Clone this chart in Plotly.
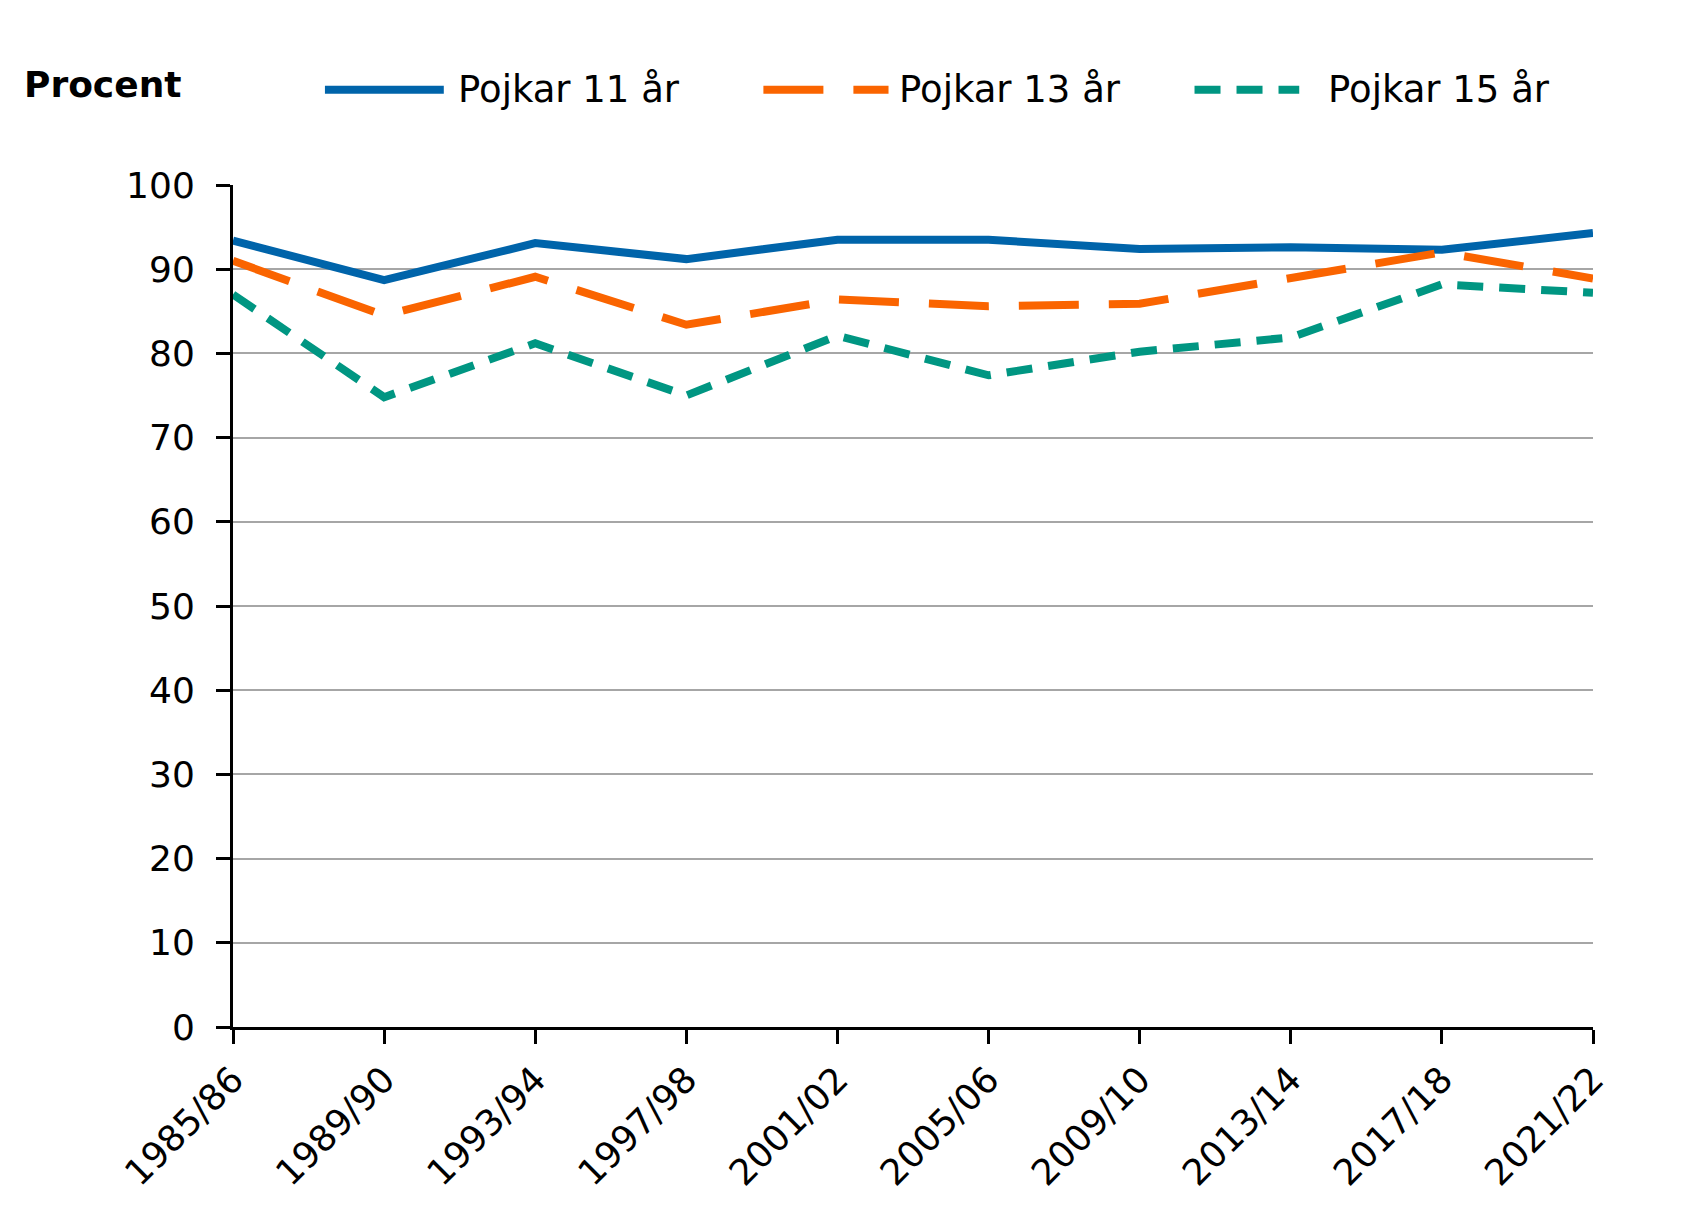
import plotly.graph_objects as go

years = ["1985/86", "1989/90", "1993/94", "1997/98", "2001/02",
         "2005/06", "2009/10", "2013/14", "2017/18", "2021/22"]
pojkar_11 = [93.4, 88.7, 93.1, 91.2, 93.5, 93.5, 92.4, 92.6, 92.3, 94.3]
pojkar_13 = [91.0, 84.5, 89.1, 83.4, 86.4, 85.6, 85.9, 89.0, 92.0, 88.9]
pojkar_15 = [87.0, 74.8, 81.2, 75.0, 82.1, 77.4, 80.2, 81.9, 88.2, 87.2]
series_names = ["Pojkar 11 år", "Pojkar 13 år", "Pojkar 15 år"]
y_ticks = [0, 10, 20, 30, 40, 50, 60, 70, 80, 90, 100]

colors = ["#0064AA", "#FA6400", "#009682"]
dashes = ["solid", "60px,30px", "26px,16px"]
FONT = "DejaVu Sans"

fig = go.Figure()
for name, vals, c, d in zip(series_names, [pojkar_11, pojkar_13, pojkar_15], colors, dashes):
    fig.add_trace(go.Scatter(x=years, y=vals, mode="lines", name=name,
                             line=dict(color=c, width=8, dash=d),
                             showlegend=False))

# custom legend (long line samples like the original)
leg_y = 1.113
leg = [(0.0676, 0.155, 0.164), (0.390, 0.482, 0.488), (0.707, 0.784, 0.804)]
for (x0, x1, xt), name, c, d in zip(leg, series_names, colors, dashes):
    fig.add_shape(type="line", xref="paper", yref="paper", x0=x0, x1=x1,
                  y0=leg_y, y1=leg_y, line=dict(color=c, width=8, dash=d))
    fig.add_annotation(xref="paper", yref="paper", x=xt, y=leg_y, text=name,
                       showarrow=False, xanchor="left", yanchor="middle",
                       font=dict(family=FONT, size=37, color="#000000"))

fig.add_annotation(xref="paper", yref="paper", x=-0.155, y=1.119, text="<b>Procent</b>",
                   showarrow=False, xanchor="left", yanchor="middle",
                   font=dict(family=FONT, size=36, color="#000000"))

fig.update_layout(
    width=1690, height=1222,
    margin=dict(l=225, r=105, t=177, b=203),
    plot_bgcolor="white", paper_bgcolor="white",
    font=dict(family=FONT, size=36, color="#000000"),
)
fig.update_xaxes(type="category", range=[0, 9], showline=True, linecolor="#000000",
                 linewidth=3, ticks="outside", ticklen=14, tickwidth=3,
                 tickcolor="#000000", tickangle=-45, showgrid=False,
                 tickfont=dict(family=FONT, size=36))
fig.update_yaxes(range=[0, 100], tickmode="array", tickvals=y_ticks,
                 showline=True, linecolor="#000000", linewidth=3,
                 ticks="outside", ticklen=14, tickwidth=3, tickcolor="#000000",
                 ticklabelstandoff=14,
                 showgrid=True, gridcolor="#A6A6A6", gridwidth=1.5,
                 zeroline=False, tickfont=dict(family=FONT, size=36))

fig.write_html("out.html")
